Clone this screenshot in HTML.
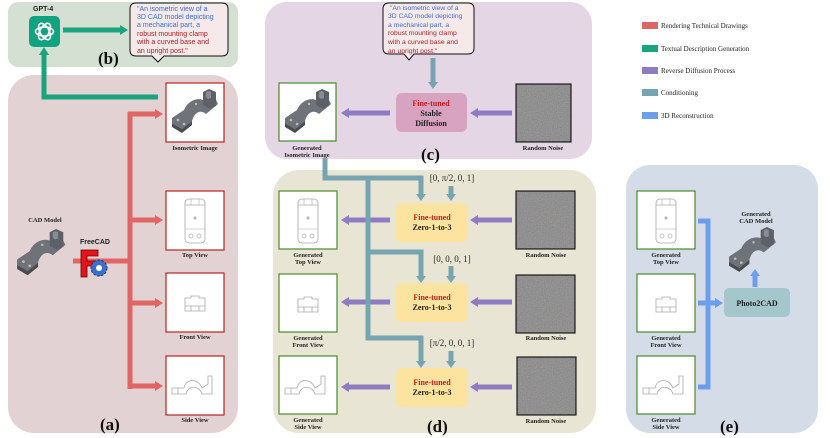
<!DOCTYPE html>
<html><head><meta charset="utf-8"><style>
html,body{margin:0;padding:0;background:#fff}
svg{display:block}
.s{font-family:"Liberation Serif",serif}
.a{font-family:"Liberation Sans",sans-serif}
</style></head><body>
<svg width="830" height="438" viewBox="0 0 830 438" xmlns="http://www.w3.org/2000/svg">
<defs>
<filter id="nz" x="0" y="0" width="100%" height="100%">
<feTurbulence type="fractalNoise" baseFrequency="1.2" numOctaves="2" seed="3"/>
<feColorMatrix type="saturate" values="0.4"/>
<feComponentTransfer><feFuncA type="linear" slope="0" intercept="1"/></feComponentTransfer>
</filter>
<g id="model">
<path d="M2,30 L14,22 C18,12 30,8 36,14 L46,12 L48,16 L36,26 C30,21 24,25 22,33 L12,41 L2,35 Z" fill="#70727a"/>
<path d="M2,35 L12,41 L22,33 L22,37 L12,45 L2,39 Z" fill="#4a4c52"/>
<path d="M33,4 L39,1 L46,4 L46,18 L40,21 L33,17 Z" fill="#5e6067"/>
<path d="M36,4 L39,3 L41,4 L41,10 L38,11 L36,9 Z" fill="#8a8c93"/>
<circle cx="8" cy="32" r="1.3" fill="#bbb"/><circle cx="14" cy="36" r="1.3" fill="#bbb"/><circle cx="26" cy="16" r="1.2" fill="#bbb"/>
</g>
<g id="top">
<rect x="19" y="8" width="20" height="44" rx="4" fill="none" stroke="#aaa" stroke-width="0.8"/>
<line x1="19" y1="14" x2="39" y2="14" stroke="#aaa" stroke-width="0.8"/>
<line x1="25" y1="8" x2="25" y2="14" stroke="#aaa" stroke-width="0.6"/><line x1="33" y1="8" x2="33" y2="14" stroke="#aaa" stroke-width="0.6"/>
<circle cx="29" cy="27" r="1.6" fill="#bbb"/>
<line x1="19" y1="38" x2="39" y2="38" stroke="#aaa" stroke-width="0.6"/>
<circle cx="25" cy="45" r="2" fill="none" stroke="#aaa" stroke-width="0.7"/><circle cx="33" cy="45" r="2" fill="none" stroke="#aaa" stroke-width="0.7"/>
</g>
<g id="front" fill="none" stroke="#aaa" stroke-width="0.8">
<path d="M19,25 L25,25 L25,23 L33,23 L33,25 L39,25 L39,38 L19,38 Z"/>
<line x1="19" y1="33" x2="39" y2="33"/><line x1="25" y1="33" x2="25" y2="38"/><line x1="33" y1="33" x2="33" y2="38"/>
</g>
<g id="side" fill="none" stroke="#aaa" stroke-width="0.8">
<path d="M6,36 L6,32 L18,32 C20,22 32,22 36,32 L42,28 L42,20 L46,20 L46,38 L36,38 C33,29 22,29 20,38 L6,38 Z"/>
<line x1="12" y1="32" x2="12" y2="38"/>
</g>
</defs>

<!-- panels -->
<rect x="8" y="2" width="230" height="65" rx="10" fill="#d4e0d2"/>
<rect x="8" y="75" width="230" height="358" rx="26" fill="#e3d2d3"/>
<rect x="265" y="2" width="327" height="157" rx="22" fill="#e4d6e4"/>
<rect x="273" y="170" width="323" height="263" rx="26" fill="#e9e5d4"/>
<rect x="626" y="165" width="192" height="268" rx="24" fill="#d4dde7"/>

<!-- legend -->
<g class="s" font-size="7" fill="#222">
<rect x="642" y="22" width="16" height="7" fill="#e06666"/><text x="661" y="28">Rendering Technical Drawings</text>
<rect x="642" y="45" width="16" height="7" fill="#1aa37f"/><text x="661" y="51">Textual Description Generation</text>
<rect x="642" y="67" width="16" height="7" fill="#8e7cc3"/><text x="661" y="73">Reverse Diffusion Process</text>
<rect x="642" y="89" width="16" height="7" fill="#76a5af"/><text x="661" y="95">Conditioning</text>
<rect x="642" y="112" width="16" height="7" fill="#6d9eeb"/><text x="661" y="118">3D Reconstruction</text>
</g>

<!-- (b) -->
<text x="33" y="11" class="a" font-size="7" font-weight="bold" fill="#222">GPT-4</text>
<rect x="29" y="16" width="31" height="31" rx="5" fill="#10a37f"/>
<g fill="none" stroke="#fff" stroke-width="1.6">
<ellipse cx="44.5" cy="31.5" rx="9" ry="4.5"/><ellipse cx="44.5" cy="31.5" rx="9" ry="4.5" transform="rotate(60 44.5 31.5)"/><ellipse cx="44.5" cy="31.5" rx="9" ry="4.5" transform="rotate(-60 44.5 31.5)"/>
</g>
<line x1="63" y1="30" x2="122" y2="30" stroke="#1aa37f" stroke-width="5"/>
<polygon points="120,25 128,30 120,35" fill="#1aa37f"/>
<path d="M136,3 H222 Q228,3 228,9 V50 Q228,56 222,56 H164 L158,62 L152,56 H136 Q130,56 130,50 V9 Q130,3 136,3 Z" fill="#f5e9ea" stroke="#111" stroke-width="1"/>
<g class="a" font-size="7">
<text x="137" y="11" fill="#3b6fd8">"An isometric view of a</text>
<text x="137" y="19" fill="#3b6fd8">3D CAD model depicting</text>
<text x="137" y="27" fill="#3b6fd8">a mechanical part,    a</text>
<text x="137" y="36" fill="#b22222">robust mounting clamp</text>
<text x="137" y="44" fill="#b22222">with a curved base and</text>
<text x="137" y="53" fill="#b22222">an upright post."</text>
</g>
<text x="98" y="64" class="s" font-size="17" font-weight="bold" fill="#111">(b)</text>
<polyline points="158,97 44,97 44,53" fill="none" stroke="#1aa37f" stroke-width="5"/>
<polygon points="39,55 44,47 49,55" fill="#1aa37f"/>

<!-- (a) -->
<g stroke="#e06666" stroke-width="5" fill="none">
<line x1="130" y1="112" x2="130" y2="389"/>
<line x1="128" y1="114" x2="157" y2="114"/>
<line x1="130" y1="220" x2="157" y2="220"/>
<line x1="130" y1="303" x2="157" y2="303"/>
<line x1="130" y1="386" x2="157" y2="386"/>
<line x1="73" y1="261" x2="130" y2="261"/>
</g>
<g fill="#e06666">
<polygon points="155,109 163,114 155,119"/><polygon points="155,215 163,220 155,225"/>
<polygon points="155,298 163,303 155,308"/><polygon points="155,381 163,386 155,391"/>
</g>
<rect x="166" y="83" width="58" height="59" fill="#fff" stroke="#b22" stroke-width="1.2"/>
<use href="#model" transform="translate(170,88) scale(1)"/>
<rect x="166" y="191" width="58" height="59" fill="#fff" stroke="#b22" stroke-width="1.2"/><use href="#top" transform="translate(166,191)"/>
<rect x="166" y="273" width="58" height="59" fill="#fff" stroke="#b22" stroke-width="1.2"/><use href="#front" transform="translate(166,273)"/>
<rect x="166" y="356" width="58" height="59" fill="#fff" stroke="#b22" stroke-width="1.2"/><use href="#side" transform="translate(166,356)"/>
<g class="s" font-size="6.5" font-weight="bold" fill="#222" text-anchor="middle">
<text x="195" y="150">Isometric Image</text>
<text x="195" y="257">Top View</text>
<text x="195" y="339">Front View</text>
<text x="195" y="422">Side View</text>
<text x="45" y="222">CAD Model</text>
</g>
<use href="#model" transform="translate(15,228) scale(1.05)"/>
<text x="80" y="244" class="a" font-size="7" font-weight="bold" fill="#222">FreeCAD</text>
<path d="M81,250 H98 V256 H87 V261 H95 V266 H87 V277 H81 Z" fill="#e3141b" stroke="#6a0000" stroke-width="0.8"/>
<circle cx="99" cy="268" r="8" fill="#3d6fc7" stroke="#1c3c80" stroke-width="1" stroke-dasharray="2.5 1.5"/>
<circle cx="99" cy="268" r="3" fill="#fff"/>
<text x="100" y="430" class="s" font-size="17" font-weight="bold" fill="#111">(a)</text>

<!-- (c) -->
<path d="M389,3 H468 Q474,3 474,9 V48 Q474,54 468,54 H414 L409,60 L404,54 H389 Q383,54 383,48 V9 Q383,3 389,3 Z" fill="#f5e9ea" stroke="#111" stroke-width="1"/>
<g class="a" font-size="6.8">
<text x="390" y="10" fill="#3b6fd8">"An isometric view of a</text>
<text x="388" y="18" fill="#3b6fd8">3D CAD model depicting</text>
<text x="388" y="27" fill="#3b6fd8">a mechanical part,    a</text>
<text x="388" y="35" fill="#b22222">robust mounting clamp</text>
<text x="388" y="44" fill="#b22222">with a curved base and</text>
<text x="388" y="53" fill="#b22222">an upright post."</text>
</g>
<line x1="433" y1="58" x2="433" y2="83" stroke="#76a5af" stroke-width="5"/>
<polygon points="428,82 433,89 438,82" fill="#76a5af"/>
<rect x="396" y="93" width="71" height="39" rx="6" fill="#d7a3c0"/>
<g class="s" font-size="8" font-weight="bold" text-anchor="middle">
<text x="431" y="106" fill="#cc1a1a">Fine-tuned</text>
<text x="431" y="116" fill="#222">Stable</text>
<text x="431" y="126" fill="#222">Diffusion</text>
</g>
<rect x="516" y="84" width="55" height="58" fill="#7a7a78" stroke="#222" stroke-width="1.2"/>
<rect x="517" y="85" width="53" height="56" filter="url(#nz)" opacity="0.35"/>
<text x="543" y="150" class="s" font-size="6.5" font-weight="bold" fill="#222" text-anchor="middle">Random Noise</text>
<g stroke="#8e7cc3" stroke-width="5">
<line x1="512" y1="113" x2="476" y2="113"/><line x1="390" y1="113" x2="347" y2="113"/>
<line x1="512" y1="220" x2="476" y2="220"/><line x1="390" y1="220" x2="347" y2="220"/>
<line x1="512" y1="302" x2="476" y2="302"/><line x1="390" y1="302" x2="347" y2="302"/>
<line x1="512" y1="387" x2="476" y2="387"/><line x1="390" y1="387" x2="347" y2="387"/>
</g>
<g fill="#8e7cc3">
<polygon points="478,108 470,113 478,118"/><polygon points="349,108 341,113 349,118"/>
<polygon points="478,215 470,220 478,225"/><polygon points="349,215 341,220 349,225"/>
<polygon points="478,297 470,302 478,307"/><polygon points="349,297 341,302 349,307"/>
<polygon points="478,382 470,387 478,392"/><polygon points="349,382 341,387 349,392"/>
</g>
<rect x="279" y="83" width="57" height="58" fill="#fff" stroke="#4a8a2a" stroke-width="1.2"/>
<use href="#model" transform="translate(283,88)"/>
<g class="s" font-size="6.5" font-weight="bold" fill="#222" text-anchor="middle">
<text x="307" y="150">Generated</text><text x="307" y="157">Isometric Image</text>
</g>
<text x="421" y="160" class="s" font-size="17" font-weight="bold" fill="#111">(c)</text>

<!-- (d) conditioning lines -->
<g stroke="#76a5af" stroke-width="5" fill="none">
<polyline points="325,158 325,178 421,178 421,195"/>
<polyline points="368,178 368,338 421,338 421,362"/>
<polyline points="368,252 421,252 421,277"/>
<line x1="451" y1="186" x2="451" y2="195"/>
<line x1="451" y1="266" x2="451" y2="277"/>
<line x1="451" y1="351" x2="451" y2="362"/>
</g>
<g fill="#76a5af">
<polygon points="416,194 421,201 426,194"/><polygon points="446,194 451,201 456,194"/>
<polygon points="416,276 421,283 426,276"/><polygon points="446,276 451,283 456,276"/>
<polygon points="416,361 421,368 426,361"/><polygon points="446,361 451,368 456,361"/>
</g>
<g class="s" font-size="9" fill="#222" text-anchor="middle">
<text x="452" y="181">[0, π/2, 0, 1]</text>
<text x="452" y="262">[0, 0, 0, 1]</text>
<text x="452" y="346">[π/2, 0, 0, 1]</text>
</g>
<g>
<rect x="396" y="203" width="72" height="39" rx="6" fill="#fde3a0"/>
<rect x="396" y="283" width="72" height="39" rx="6" fill="#fde3a0"/>
<rect x="396" y="368" width="72" height="39" rx="6" fill="#fde3a0"/>
</g>
<g class="s" font-size="8" font-weight="bold" text-anchor="middle">
<text x="432" y="220" fill="#cc1a1a">Fine-tuned</text><text x="432" y="230" fill="#222">Zero-1-to-3</text>
<text x="432" y="300" fill="#cc1a1a">Fine-tuned</text><text x="432" y="310" fill="#222">Zero-1-to-3</text>
<text x="432" y="385" fill="#cc1a1a">Fine-tuned</text><text x="432" y="395" fill="#222">Zero-1-to-3</text>
</g>
<g>
<rect x="516" y="191" width="59" height="58" fill="#7a7a78" stroke="#222" stroke-width="1.2"/><rect x="517" y="192" width="57" height="56" filter="url(#nz)" opacity="0.35"/>
<rect x="516" y="275" width="59" height="58" fill="#7a7a78" stroke="#222" stroke-width="1.2"/><rect x="517" y="276" width="57" height="56" filter="url(#nz)" opacity="0.35"/>
<rect x="517" y="357" width="59" height="58" fill="#7a7a78" stroke="#222" stroke-width="1.2"/><rect x="518" y="358" width="57" height="56" filter="url(#nz)" opacity="0.35"/>
</g>
<g class="s" font-size="6.5" font-weight="bold" fill="#222" text-anchor="middle">
<text x="546" y="257">Random Noise</text><text x="546" y="340">Random Noise</text><text x="546" y="423">Random Noise</text>
</g>
<rect x="279" y="191" width="58" height="58" fill="#fff" stroke="#4a8a2a" stroke-width="1.2"/><use href="#top" transform="translate(279,191)"/>
<rect x="279" y="274" width="58" height="58" fill="#fff" stroke="#4a8a2a" stroke-width="1.2"/><use href="#front" transform="translate(279,274)"/>
<rect x="279" y="356" width="58" height="58" fill="#fff" stroke="#4a8a2a" stroke-width="1.2"/><use href="#side" transform="translate(279,356)"/>
<g class="s" font-size="6.5" font-weight="bold" fill="#222" text-anchor="middle">
<text x="308" y="257">Generated</text><text x="308" y="264">Top View</text>
<text x="308" y="340">Generated</text><text x="308" y="347">Front View</text>
<text x="308" y="422">Generated</text><text x="308" y="429">Side View</text>
</g>
<text x="427" y="432" class="s" font-size="17" font-weight="bold" fill="#111">(d)</text>

<!-- (e) -->
<rect x="637" y="191" width="58" height="58" fill="#fff" stroke="#4a8a2a" stroke-width="1.2"/><use href="#top" transform="translate(637,191)"/>
<rect x="637" y="274" width="58" height="58" fill="#fff" stroke="#4a8a2a" stroke-width="1.2"/><use href="#front" transform="translate(637,274)"/>
<rect x="637" y="356" width="58" height="58" fill="#fff" stroke="#4a8a2a" stroke-width="1.2"/><use href="#side" transform="translate(637,356)"/>
<g class="s" font-size="6.5" font-weight="bold" fill="#222" text-anchor="middle">
<text x="666" y="257">Generated</text><text x="666" y="264">Top View</text>
<text x="666" y="340">Generated</text><text x="666" y="347">Front View</text>
<text x="666" y="422">Generated</text><text x="666" y="429">Side View</text>
<text x="756" y="216">Generated</text><text x="756" y="223">CAD Model</text>
</g>
<g stroke="#6d9eeb" stroke-width="5" fill="none">
<polyline points="698,221 708,221 708,387 698,387"/>
<line x1="698" y1="303" x2="716" y2="303"/>
<line x1="755" y1="287" x2="755" y2="275"/>
</g>
<polygon points="715,298 723,303 715,308" fill="#6d9eeb"/>
<polygon points="750,276 755,269 760,276" fill="#6d9eeb"/>
<rect x="724" y="288" width="66" height="29" rx="5" fill="#a3c7cb"/>
<text x="757" y="306" class="s" font-size="8" font-weight="bold" fill="#222" text-anchor="middle">Photo2CAD</text>
<use href="#model" transform="translate(727,226) scale(1.02)"/>
<text x="720" y="432" class="s" font-size="17" font-weight="bold" fill="#111">(e)</text>
</svg>
</body></html>
